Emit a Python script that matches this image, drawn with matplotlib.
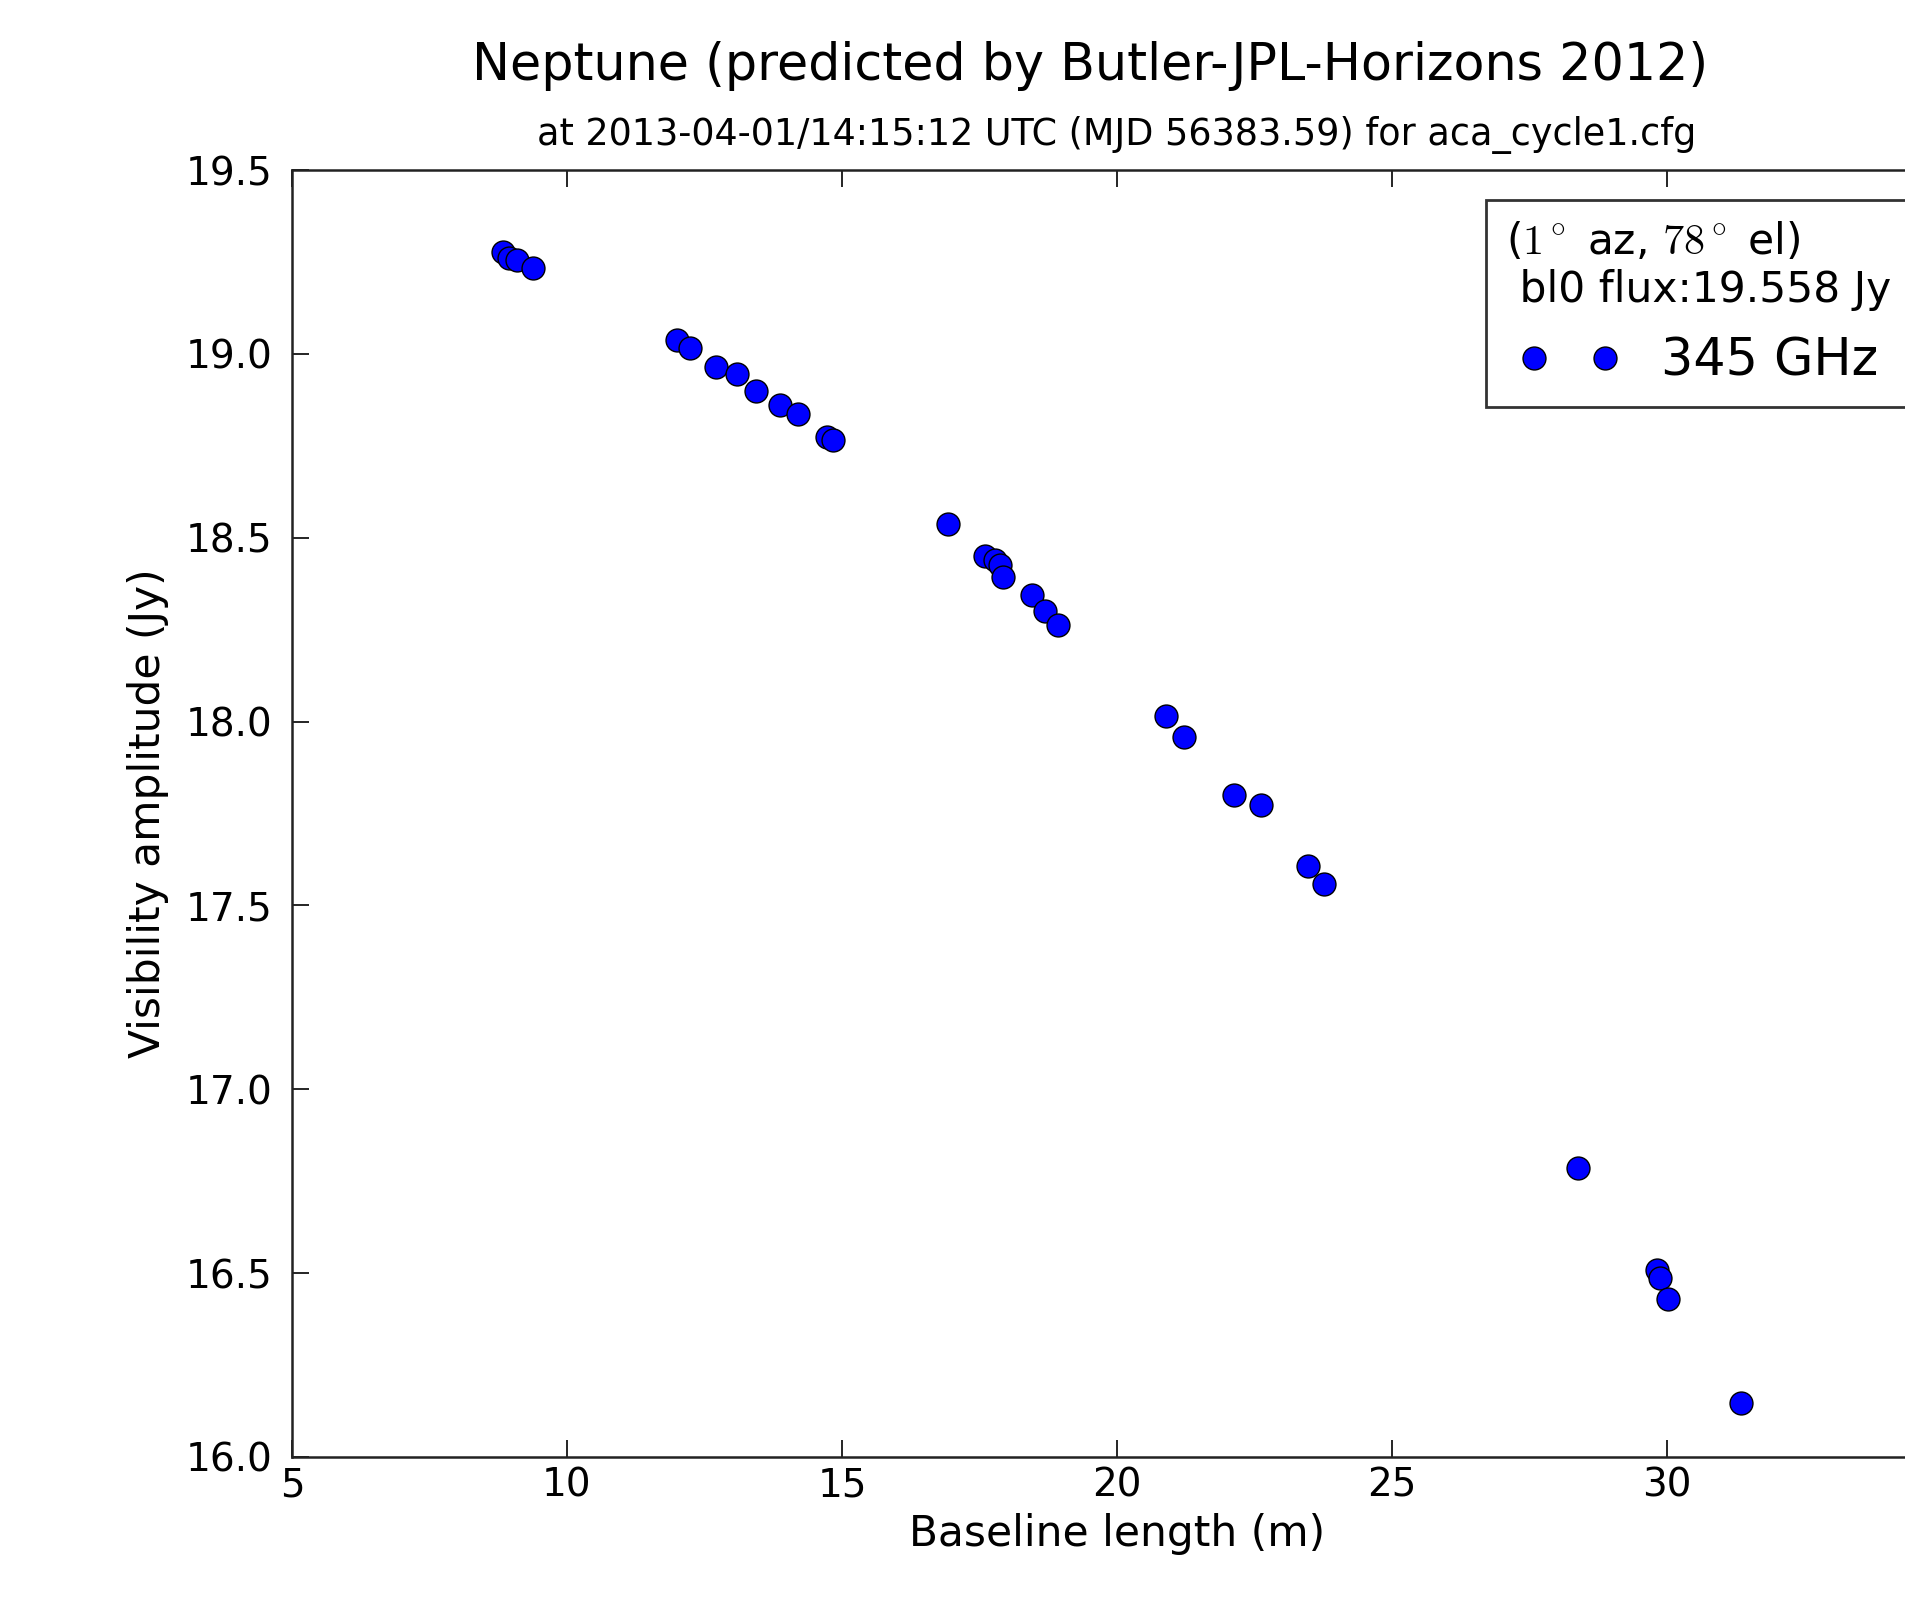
import matplotlib
matplotlib.use("Agg")
import matplotlib.pyplot as plt

baseline_m = [8.84, 8.95, 9.09, 9.38,
              12.00, 12.24, 12.71, 13.09, 13.44, 13.87, 14.20, 14.73, 14.84,
              16.93, 17.60, 17.78, 17.87, 17.93, 18.45, 18.69, 18.93,
              20.89, 21.22, 22.13, 22.62, 23.47, 23.76,
              28.38, 29.82, 29.87, 30.02, 31.35]
amplitude_jy = [19.277, 19.262, 19.255, 19.233,
                19.038, 19.016, 18.964, 18.945, 18.899, 18.861, 18.836, 18.774, 18.766,
                18.537, 18.450, 18.439, 18.426, 18.393, 18.344, 18.301, 18.263,
                18.015, 17.958, 17.800, 17.773, 17.607, 17.558,
                16.786, 16.508, 16.487, 16.430, 16.147]
xticks = [5, 10, 15, 20, 25, 30]
yticks = [16.0, 16.5, 17.0, 17.5, 18.0, 18.5, 19.0, 19.5]
series_label = "345 GHz"
legend_title = "($1^\\circ$ az, $78^\\circ$ el)\n bl0 flux:19.558 Jy"
title = "Neptune (predicted by Butler-JPL-Horizons 2012)"
subtitle = "at 2013-04-01/14:15:12 UTC (MJD 56383.59) for aca_cycle1.cfg"

plt.rcParams['font.family'] = ['DejaVu Sans']
plt.rcParams['mathtext.fontset'] = 'cm'

W, H = 1906, 1597
fig = plt.figure(figsize=(W / 100, H / 100), dpi=100)
ax = fig.add_axes([292 / W, (H - 1457) / H, 1650 / W, 1287 / H])

ax.plot(baseline_m, amplitude_jy, 'o', color=(0, 0, 1), markeredgecolor='black',
        markeredgewidth=1.0, markersize=16.5, label=series_label, linestyle='none')

ax.set_xlim(5, 35)
ax.set_ylim(16.0, 19.5)
ax.set_xticks(xticks)
ax.set_yticks(yticks)
ax.set_xticklabels([str(t) for t in xticks])
ax.set_yticklabels([f"{t:.1f}" for t in yticks])
ax.tick_params(direction='in', length=12, width=1.2, top=True, right=True,
               labelsize=28, colors='black')
ax.tick_params(axis='x', pad=7)
ax.tick_params(axis='y', pad=14)
for s in ax.spines.values():
    s.set_linewidth(1.8)
    s.set_color('#222222')

ax.set_xlabel("Baseline length (m)", fontsize=30.5, labelpad=6)
ax.set_ylabel("Visibility amplitude (Jy)", fontsize=30.5, labelpad=12)

fig.text(1090 / W, 1 - 80 / H, title, ha='center', va='baseline', fontsize=36.5)
ax.set_title(subtitle, fontsize=26.3, pad=18)

leg = ax.legend(loc='upper right', numpoints=2, fontsize=36.5, title=legend_title,
                title_fontsize=30.5, alignment='center', frameon=True, fancybox=False,
                borderaxespad=0.6, handlelength=2.0, borderpad=0.4)
leg.get_frame().set_edgecolor('black')
leg.get_frame().set_linewidth(2.0)
leg.get_title().set_multialignment('left')

fig.savefig("out.png", dpi=100)
